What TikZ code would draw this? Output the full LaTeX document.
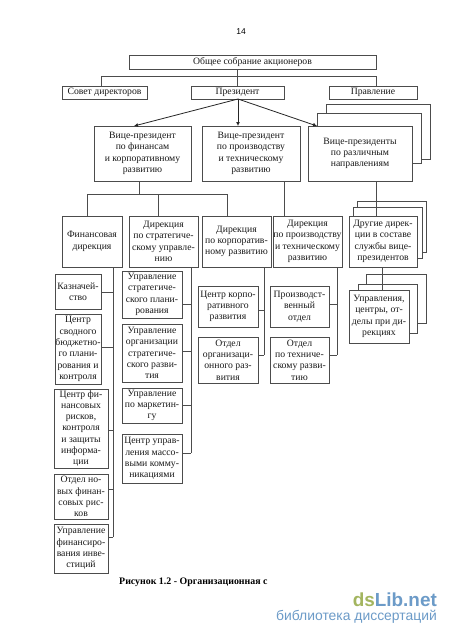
\documentclass[tikz,border=0pt]{standalone}
\usepackage{fontspec}
\setmainfont{Liberation Serif}
\newfontfamily\sansf{Liberation Sans}
\definecolor{wmgreen}{HTML}{A3B55F}
\definecolor{wmblue}{HTML}{6C9BC8}
\tikzset{
  box/.style={draw=linec,fill=white,line width=0.9pt,inner sep=0pt,outer sep=0pt,align=center,text=black!90,
    font=\fontsize{9.7}{11.3}\selectfont},
  link/.style={draw=linec,line width=0.9pt},
  arrowlink/.style={draw=black!85,line width=0.8pt,-{Latex[length=4pt,width=4pt]}},
}
\usetikzlibrary{arrows.meta}
\colorlet{linec}{black!70}
\newcommand\bx[6]{\pgfmathsetmacro\bw{#4-#2}\pgfmathsetmacro\bh{#5-#3}%
  \node[box,minimum width=\bw pt,minimum height=\bh pt] (#1) at ({(#2+#4)/2},{(#3+#5)/2}) {#6};}
\newcommand\tick[3]{\coordinate (tk) at (#1,#2); \draw[link] (tk) -- (tk -| #3.east);}
\begin{document}
\begin{tikzpicture}[x=1pt,y=-1pt]
\useasboundingbox[fill=white] (0,0) rectangle (450,637);
\node[font=\sansf\fontsize{8.5}{10}\selectfont] (pg) at (241,32) {14};
% top
\bx{gen}{129}{55}{376}{69}{Общее собрание акционеров}
\bx{sov}{62}{86}{147}{99}{Совет директоров}
\bx{pres}{191}{86}{284}{99}{Президент}
\bx{prav}{329}{86}{417}{99}{Правление}
% vice presidents
\bx{vpcc}{326}{104}{430}{159}{}
\bx{vpc}{317}{113}{421}{163}{}
\bx{vpa}{94}{126}{191}{181}{Вице-президент\\по финансам\\и корпоративному\\развитию}
\bx{vpb}{202}{126}{300}{181}{Вице-президент\\по производству\\и техническому\\развитию}
\bx{vpd}{308}{126}{412}{181}{Вице-президенты\\по различным\\направлениям}
% directorates
\bx{dcc}{357}{201}{426}{252}{}
\bx{dc}{353}{207}{422}{258}{}
\bx{da}{62}{216}{122}{267}{Финансовая\\дирекция}
\bx{db}{129}{216}{198}{267}{Дирекция\\по стратегиче-\\скому управле-\\нию}
\bx{dd}{202}{216}{271}{267}{Дирекция\\по корпоратив-\\ному развитию}
\bx{de}{273}{216}{342}{267}{Дирекция\\по производству\\и техническому\\развитию}
\bx{df}{349}{216}{417}{267}{Другие дирек-\\ции в составе\\службы вице-\\президентов}
% column 1
\bx{a1}{55}{274}{101}{309}{Казначей-\\ство}
\bx{a2}{55}{314}{101}{384}{Центр\\сводного\\бюджетно-\\го плани-\\рования и\\контроля}
\bx{a3}{54}{389}{108}{468}{Центр фи-\\нансовых\\рисков,\\контроля\\и защиты\\информа-\\ции}
\bx{a4}{54}{474}{108}{519}{Отдел но-\\вых финан-\\совых рис-\\ков}
\bx{a5}{54}{524}{108}{573}{Управление\\финансиро-\\вания инве-\\стиций}
% column 2
\bx{b1}{122}{271}{182}{318}{Управление\\стратегиче-\\ского плани-\\рования}
\bx{b2}{122}{324}{182}{382}{Управление\\организации\\стратегиче-\\ского разви-\\тия}
\bx{b3}{122}{388}{182}{423}{Управление\\по маркетин-\\гу}
\bx{b4}{122}{434}{182}{483}{Центр управ-\\ления массо-\\выми комму-\\никациями}
% column 3
\bx{c1}{198}{286}{258}{327}{Центр корпо-\\ративного\\развития}
\bx{c2}{198}{337}{258}{383}{Отдел\\организаци-\\онного раз-\\вития}
% column 4
\bx{e1}{270}{286}{329}{327}{Производст-\\венный\\отдел}
\bx{e2}{270}{337}{329}{383}{Отдел\\по техниче-\\скому разви-\\тию}
% last stack
\bx{fcc}{366}{274}{426}{323}{}
\bx{fc}{358}{284}{417}{333}{}
\bx{f1}{349}{290}{409}{343}{Управления,\\центры, от-\\делы при ди-\\рекциях}
% connectors top
\coordinate (busl) at (101,76);
\coordinate (busr) at (376,76);
\draw[link] (gen.south -| pres.north) -- (pres.north);
\draw[link] (sov.north -| busl) -- (busl) -- (busr) -- (prav.north -| busr);
\coordinate (pb) at (238,99);
\coordinate (ta) at (134,126);
\coordinate (tb) at (238,126);
\coordinate (tc) at (317,126);
\draw[arrowlink] (pb) -- (ta);
\draw[arrowlink] (pb) -- (tb);
\draw[arrowlink] (pb) -- (tc);
% vp to directorates
\coordinate (v1) at (139,194);
\draw[link] (vpa.south -| v1) -- (v1);
\coordinate (bl) at (87,194); \coordinate (bm) at (158,194); \coordinate (br) at (227,194);
\draw[link] (da.north -| bl) -- (bl) -- (br) -- (dd.north -| br);
\draw[link] (bm) -- (db.north -| bm);
\coordinate (v2) at (284,181);
\draw[link] (v2) -- (de.north -| v2);
\coordinate (v3) at (376,181);
\draw[link] (v3) -- (df.north -| v3);
% trunks
\coordinate (t1) at (113,267); \coordinate (t1e) at (113,537);
\draw[link] (t1) -- (t1e);
\tick{113}{292}{a1}\tick{113}{347}{a2}\tick{113}{430}{a3}\tick{113}{489}{a4}\tick{113}{537}{a5}
\coordinate (t2) at (191,267); \coordinate (t2e) at (191,453);
\draw[link] (t2) -- (t2e);
\tick{191}{304}{b1}\tick{191}{351}{b2}\tick{191}{405}{b3}\tick{191}{453}{b4}
\coordinate (t3) at (264,267); \coordinate (t3e) at (264,355);
\draw[link] (t3) -- (t3e);
\tick{264}{310}{c1}\tick{264}{355}{c2}
\coordinate (t4) at (337,267); \coordinate (t4e) at (337,355);
\draw[link] (t4) -- (t4e);
\tick{337}{304}{e1}\tick{337}{355}{e2}
\coordinate (t5) at (382,267);
\draw[link] (t5) -- (f1.north -| t5);
% caption
\node[anchor=west,inner sep=0pt,font=\bfseries\fontsize{9.9}{11}\selectfont] (cap) at (119,582) {Рисунок 1.2 - Организационная с};
% watermark
\node[anchor=east,inner sep=0pt,font=\sansf\bfseries\fontsize{18.9}{20}\selectfont] (wm) at (437,600) {\textcolor{wmgreen}{ds}\textcolor{wmblue}{Lib.net}};
\node[anchor=east,inner sep=0pt,text=wmblue,font=\sansf\fontsize{13.9}{15}\selectfont] (wm2) at (437,617) {библиотека диссертаций};
\end{tikzpicture}
\end{document}
